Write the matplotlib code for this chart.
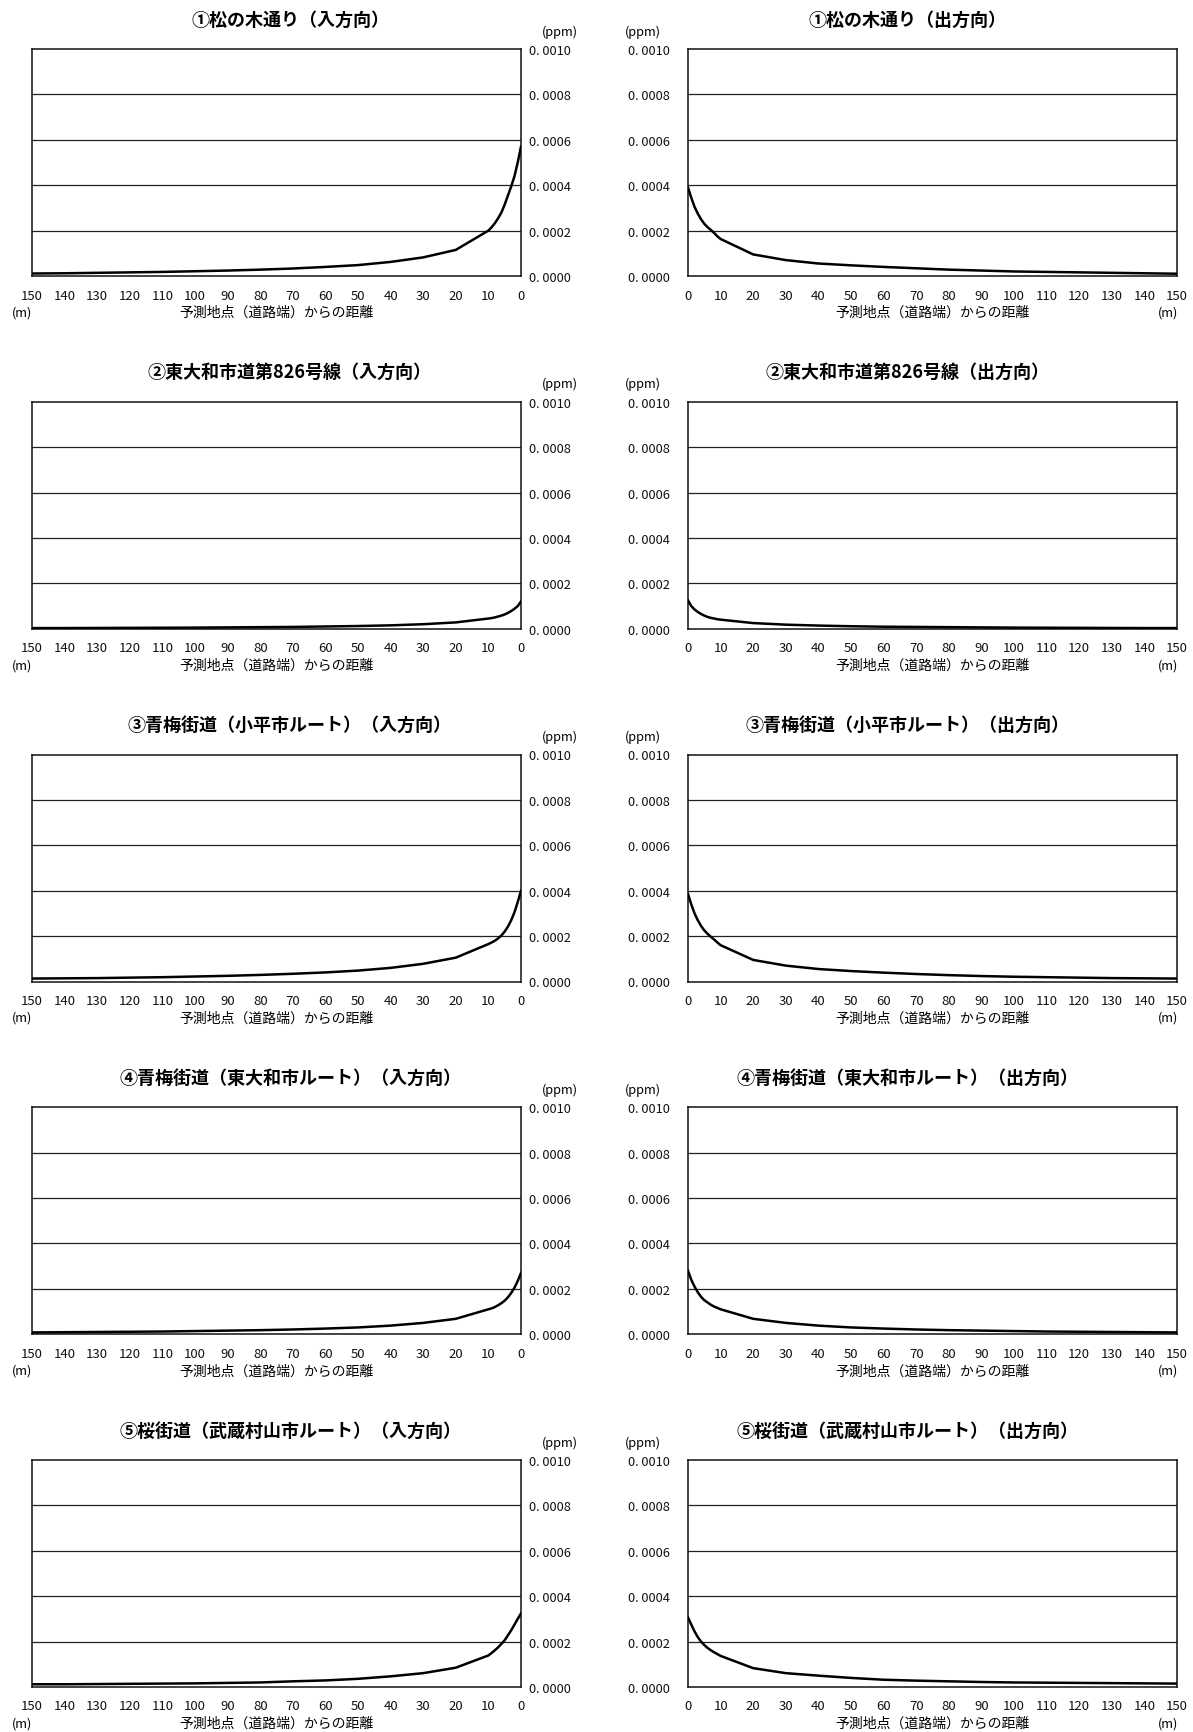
import matplotlib
matplotlib.use("Agg")
import matplotlib.pyplot as plt

plt.rcParams['font.family'] = ['Noto Sans CJK JP', 'DejaVu Sans']

# ---- data (values in 1e-4 ppm) ----
distance = [0, 1, 2, 3, 4, 5, 6, 7, 8, 9, 10, 20, 30, 40, 50, 60, 70, 80, 90, 100, 110, 120, 130, 140, 150]

titles_in = ["①松の木通り（入方向）", "②東大和市道第826号線（入方向）", "③青梅街道（小平市ルート）（入方向）",
             "④青梅街道（東大和市ルート）（入方向）", "⑤桜街道（武蔵村山市ルート）（入方向）"]
titles_out = ["①松の木通り（出方向）", "②東大和市道第826号線（出方向）", "③青梅街道（小平市ルート）（出方向）",
              "④青梅街道（東大和市ルート）（出方向）", "⑤桜街道（武蔵村山市ルート）（出方向）"]

p1_in = [5.7, 5.0, 4.4, 3.95, 3.55, 3.15, 2.8, 2.55, 2.33, 2.15, 2.0,
         1.15, 0.82, 0.62, 0.48, 0.40, 0.33, 0.28, 0.24, 0.21, 0.18, 0.16, 0.14, 0.12, 0.11]
p1_out = [3.9, 3.45, 3.05, 2.75, 2.5, 2.3, 2.15, 2.03, 1.9, 1.75, 1.63,
          0.95, 0.70, 0.55, 0.47, 0.40, 0.34, 0.28, 0.24, 0.20, 0.18, 0.16, 0.14, 0.12, 0.10]
p2_in = [1.2, 1.0, 0.88, 0.78, 0.7, 0.63, 0.58, 0.54, 0.5, 0.47, 0.45,
         0.28, 0.2, 0.15, 0.12, 0.1, 0.08, 0.07, 0.06, 0.05, 0.045, 0.04, 0.035, 0.03, 0.03]
p2_out = [1.25, 1.0, 0.85, 0.74, 0.65, 0.58, 0.52, 0.48, 0.45, 0.42, 0.4,
          0.25, 0.18, 0.14, 0.11, 0.09, 0.08, 0.07, 0.06, 0.05, 0.045, 0.04, 0.035, 0.03, 0.03]
p3_in = [4.0, 3.5, 3.05, 2.7, 2.42, 2.2, 2.03, 1.9, 1.8, 1.72, 1.65,
         1.05, 0.78, 0.6, 0.48, 0.4, 0.34, 0.29, 0.25, 0.22, 0.19, 0.17, 0.15, 0.14, 0.13]
p3_out = [3.85, 3.4, 3.0, 2.7, 2.45, 2.25, 2.1, 1.97, 1.85, 1.72, 1.6,
          0.95, 0.70, 0.55, 0.46, 0.39, 0.33, 0.28, 0.24, 0.21, 0.19, 0.17, 0.15, 0.14, 0.13]
p4_in = [2.7, 2.35, 2.05, 1.82, 1.63, 1.48, 1.37, 1.28, 1.2, 1.14, 1.1,
         0.68, 0.5, 0.38, 0.3, 0.25, 0.21, 0.18, 0.16, 0.14, 0.12, 0.11, 0.1, 0.09, 0.08]
p4_out = [2.8, 2.4, 2.1, 1.85, 1.65, 1.5, 1.4, 1.3, 1.22, 1.16, 1.1,
          0.68, 0.5, 0.38, 0.3, 0.25, 0.21, 0.18, 0.16, 0.14, 0.12, 0.11, 0.1, 0.09, 0.08]
p5_in = [3.24, 3.0, 2.75, 2.5, 2.28, 2.06, 1.9, 1.75, 1.62, 1.5, 1.39,
         0.85, 0.61, 0.47, 0.36, 0.29, 0.25, 0.2, 0.18, 0.16, 0.15, 0.14, 0.13, 0.12, 0.12]
p5_out = [3.07, 2.75, 2.45, 2.2, 2.0, 1.85, 1.72, 1.62, 1.53, 1.45, 1.37,
          0.83, 0.61, 0.5, 0.4, 0.32, 0.28, 0.25, 0.22, 0.2, 0.19, 0.18, 0.17, 0.16, 0.15]

series_in = [p1_in, p2_in, p3_in, p4_in, p5_in]
series_out = [p1_out, p2_out, p3_out, p4_out, p5_out]
scale = 1e-4

y_ticks = [0.0, 0.0002, 0.0004, 0.0006, 0.0008, 0.0010]
x_ticks = list(range(0, 151, 10))
xlabel = "予測地点（道路端）からの距離"

# ---- layout (pixels) ----
W, H = 1193, 1733
fig = plt.figure(figsize=(W / 100, H / 100), dpi=100)

ax_w, ax_h = 489, 227
left_x0, right_x0 = 32, 688
row_top0, row_step = 50, 352.75


def fx(px):
    return px / W


def fy(py):
    return 1 - py / H


def style_axes(ax):
    ax.set_ylim(0, 0.001)
    ax.set_yticks(y_ticks)
    ax.set_yticklabels([f"{v:.4f}".replace('.', '. ') for v in y_ticks])
    ax.set_xticks(x_ticks)
    ax.set_xticklabels([str(v) for v in x_ticks])
    ax.tick_params(length=0, labelsize=9.2, colors='#111111')
    ax.tick_params(axis='x', pad=9, labelsize=9.5)
    for g in y_ticks[1:-1]:
        ax.axhline(g, color='#222222', lw=0.9, zorder=1)
    for s in ax.spines.values():
        s.set_color('#111111')
        s.set_linewidth(1.1)


for i in range(5):
    top = row_top0 + i * row_step
    bottom = top + ax_h
    # ---- left (inbound) ----
    axl = fig.add_axes([fx(left_x0), fy(bottom), ax_w / W, ax_h / H])
    axl.plot(distance, [v * scale for v in series_in[i]], color='black', lw=1.8, zorder=3,
             solid_joinstyle='round')
    axl.set_xlim(150, 0)
    style_axes(axl)
    axl.yaxis.tick_right()
    axl.tick_params(axis='y', pad=6)
    for lab in axl.get_yticklabels():
        lab.set_horizontalalignment('left')
    fig.text(fx(290), fy(top - 30), titles_in[i], ha='center', va='center', fontsize=13,
             fontweight='bold')
    fig.text(fx(560), fy(top - 18), "(ppm)", ha='center', va='center', fontsize=9.2)
    fig.text(fx(left_x0 + ax_w / 2), fy(bottom + 36), xlabel, ha='center', va='center', fontsize=10)
    fig.text(fx(22), fy(bottom + 36), "(m)", ha='center', va='center', fontsize=9.2)

    # ---- right (outbound) ----
    axr = fig.add_axes([fx(right_x0), fy(bottom), ax_w / W, ax_h / H])
    axr.plot(distance, [v * scale for v in series_out[i]], color='black', lw=1.8, zorder=3,
             solid_joinstyle='round')
    axr.set_xlim(0, 150)
    style_axes(axr)
    axr.tick_params(axis='y', pad=13)
    fig.text(fx(907), fy(top - 30), titles_out[i], ha='center', va='center', fontsize=13,
             fontweight='bold')
    fig.text(fx(643), fy(top - 18), "(ppm)", ha='center', va='center', fontsize=9.2)
    fig.text(fx(right_x0 + ax_w / 2), fy(bottom + 36), xlabel, ha='center', va='center', fontsize=10)
    fig.text(fx(1168), fy(bottom + 36), "(m)", ha='center', va='center', fontsize=9.2)

fig.savefig("out.png", dpi=100, facecolor='white')
